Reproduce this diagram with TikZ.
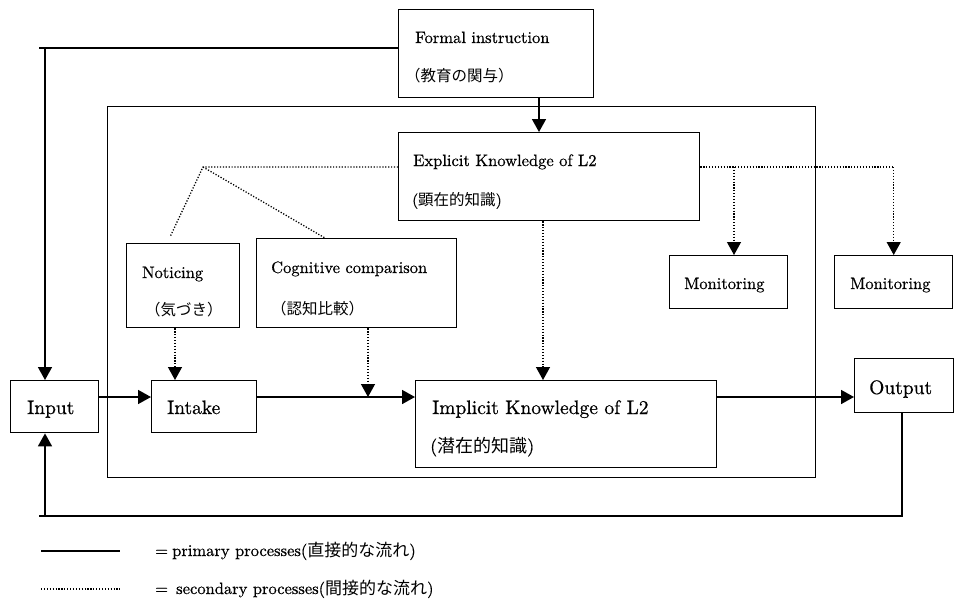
\documentclass[tikz,border=0pt]{standalone}
\usepackage{fontspec}
\setmainfont{lmroman10-regular.otf}[FakeBold=0.6]
\newfontfamily\jp{Noto Sans CJK JP}
\usetikzlibrary{arrows.meta}
\begin{document}
\begin{tikzpicture}[x=1pt,y=-1pt,
  box/.style={draw,line width=1.4pt,inner sep=0pt,anchor=north west},
  ln/.style={line width=1.6pt},
  arr/.style={ln,-{Triangle[width=14pt,length=13pt]}},
  dot/.style={line width=1.3pt,dash pattern=on 1.2pt off 1.7pt},
  darr/.style={dot,-{Triangle[width=14pt,length=13pt]}},
  lab/.style={anchor=base west,inner sep=0pt,font=\fontsize{16.5}{20}\selectfont},
  big/.style={anchor=base west,inner sep=0pt,font=\fontsize{19.5}{24}\selectfont},
  jlab/.style={anchor=base west,inner sep=0pt,font=\fontsize{15.5}{18}\selectfont},
  leg/.style={anchor=base west,inner sep=0pt,font=\fontsize{16.5}{18}\selectfont},
]
\useasboundingbox (0,0) rectangle (955,606);
% boxes
\node[box,minimum width=708pt,minimum height=371pt] (outer) at (107,106) {};
\node[box,minimum width=195pt,minimum height=88pt] (fi) at (398,9) {};
\node[box,minimum width=301pt,minimum height=88pt] (ek) at (398,132) {};
\node[box,minimum width=113pt,minimum height=84pt] (no) at (126,243) {};
\node[box,minimum width=200pt,minimum height=89pt] (cc) at (256,238) {};
\node[box,minimum width=88pt,minimum height=52pt] (in) at (10,380) {};
\node[box,minimum width=105pt,minimum height=52pt] (it) at (151,380) {};
\node[box,minimum width=301pt,minimum height=87pt] (im) at (415,380) {};
\node[box,minimum width=118pt,minimum height=53pt] (m1) at (669,255) {};
\node[box,minimum width=118pt,minimum height=53pt] (m2) at (834,255) {};
\node[box,minimum width=99pt,minimum height=54pt] (out) at (854,358) {};
% texts
\node[lab] (tfi) at (415,43) {Formal instruction};
\node[jlab] (tfij) at (405,81) {{\jp （教育の関与）}};
\node[lab] (tek) at (413,166) {Explicit Knowledge of L2};
\node[jlab] (tekj) at (412,205) {({\jp 顕在的知識})};
\node[lab] (tno) at (142,278) {Noticing};
\node[jlab] (tnoj) at (145,315) {{\jp （気づき）}};
\node[lab] (tcc) at (271,273) {Cognitive comparison};
\node[jlab] (tccj) at (271,314) {{\jp （認知比較）}};
\node[big] (tin) at (27,414) {Input};
\node[big] (tit) at (167,414) {Intake};
\node[big] (tim) at (432,414) {Implicit Knowledge of L2};
\node[jlab,font=\fontsize{18}{20}\selectfont] (timj) at (430,452) {({\jp 潜在的知識})};
\node[big] (tout) at (869,394) {Output};
\node[lab] (tm1) at (684,289) {Monitoring};
\node[lab] (tm2) at (850,289) {Monitoring};
% coordinates
\coordinate (tl) at (45,48);
\coordinate (tl0) at (39,48);
\coordinate (bl) at (45,516);
\coordinate (bl0) at (39,516);
\coordinate (xo) at (902,0);
\coordinate (xfi) at (539,0);
\coordinate (xek) at (543,0);
\coordinate (xno) at (175,0);
\coordinate (xcc) at (368,0);
\coordinate (xct) at (325,0);
\coordinate (nt) at (170,237);
\coordinate (hub) at (203,167);
\coordinate (ye) at (0,167);
\coordinate (yh) at (0,397);
\coordinate (xm1) at (734,0);
% primary
\draw[ln] (fi.west |- tl) -- (tl0);
\draw[arr] (tl) -- (tl |- in.north);
\draw[ln] (out.south -| xo) -- (xo |- bl) -- (bl0);
\draw[arr] (bl) -- (bl |- in.south);
\draw[arr] (fi.south -| xfi) -- (ek.north -| xfi);
\draw[arr] (in.east |- yh) -- (it.west |- yh);
\draw[arr] (it.east |- yh) -- (im.west |- yh);
\draw[arr] (im.east |- yh) -- (out.west |- yh);
% secondary
\draw[dot] (ek.west |- ye) -- (hub) -- (nt);
\draw[dot] (hub) -- (cc.north -| xct);
\draw[darr] (no.south -| xno) -- (it.north -| xno);
\draw[darr] (cc.south -| xcc) -- (xcc |- yh);
\draw[darr] (ek.south -| xek) -- (im.north -| xek);
\draw[dot] (ek.east |- ye) -- (m2.north |- ye);
\draw[darr] (xm1 |- ye) -- (m1.north -| xm1);
\draw[darr] (m2.north |- ye) -- (m2.north);
% legend
\coordinate (l1a) at (41,551);
\coordinate (l1b) at (120,551);
\coordinate (l2a) at (41,589);
\coordinate (l2b) at (120,589);
\draw[ln] (l1a) -- (l1b);
\draw[dot] (l2a) -- (l2b);
\node[leg] (eq1) at (155,556) {=};
\node[leg] (lg1) at (172,556) {primary processes({\jp\fontsize{17}{18}\selectfont 直接的な流れ})};
\node[leg] (eq2) at (155,594) {=};
\node[leg] (lg2) at (176,594) {secondary processes({\jp\fontsize{17}{18}\selectfont 間接的な流れ})};
\end{tikzpicture}
\end{document}
